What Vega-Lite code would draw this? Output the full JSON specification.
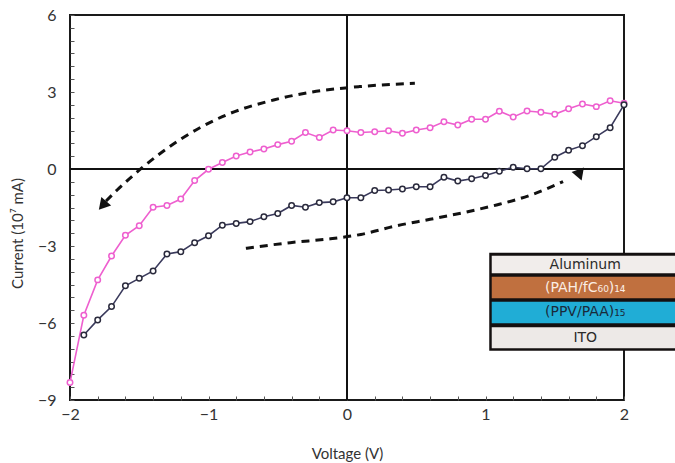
{
  "$schema": "https://vega.github.io/schema/vega-lite/v6.json",
  "width": 554,
  "height": 385,
  "autosize": {"type": "none"},
  "padding": {"left": 70, "top": 15, "right": 51, "bottom": 63},
  "background": "white",
  "config": {
    "view": {"stroke": "#1a1a1a", "strokeWidth": 2},
    "axis": {
      "grid": false,
      "domain": false,
      "labelFlush": false,
      "labelFont": "Lato",
      "labelFontSize": 16,
      "labelColor": "#333333",
      "titleFont": "Lato",
      "titleFontSize": 15,
      "titleFontWeight": "normal",
      "titleColor": "#333333",
      "tickColor": "#555555",
      "tickSize": -4,
      "tickWidth": 1
    }
  },
  "resolve": {"scale": {"color": "independent", "fill": "independent", "stroke": "independent"}},
  "datasets": {
    "iv": [
      {"s": "pink", "V": -2.0, "I": -8.32}, {"s": "pink", "V": -1.9, "I": -5.70}, {"s": "pink", "V": -1.8, "I": -4.32},
      {"s": "pink", "V": -1.7, "I": -3.39}, {"s": "pink", "V": -1.6, "I": -2.58}, {"s": "pink", "V": -1.5, "I": -2.21},
      {"s": "pink", "V": -1.4, "I": -1.49}, {"s": "pink", "V": -1.3, "I": -1.42}, {"s": "pink", "V": -1.2, "I": -1.17},
      {"s": "pink", "V": -1.1, "I": -0.45}, {"s": "pink", "V": -1.0, "I": -0.01}, {"s": "pink", "V": -0.9, "I": 0.25},
      {"s": "pink", "V": -0.8, "I": 0.51}, {"s": "pink", "V": -0.7, "I": 0.66}, {"s": "pink", "V": -0.6, "I": 0.78},
      {"s": "pink", "V": -0.5, "I": 0.95}, {"s": "pink", "V": -0.4, "I": 1.08}, {"s": "pink", "V": -0.3, "I": 1.42},
      {"s": "pink", "V": -0.2, "I": 1.23}, {"s": "pink", "V": -0.1, "I": 1.52}, {"s": "pink", "V": 0.0, "I": 1.49},
      {"s": "pink", "V": 0.1, "I": 1.42}, {"s": "pink", "V": 0.2, "I": 1.45}, {"s": "pink", "V": 0.3, "I": 1.49},
      {"s": "pink", "V": 0.4, "I": 1.39}, {"s": "pink", "V": 0.5, "I": 1.52}, {"s": "pink", "V": 0.6, "I": 1.61},
      {"s": "pink", "V": 0.7, "I": 1.84}, {"s": "pink", "V": 0.8, "I": 1.71}, {"s": "pink", "V": 0.9, "I": 1.94},
      {"s": "pink", "V": 1.0, "I": 1.94}, {"s": "pink", "V": 1.1, "I": 2.25}, {"s": "pink", "V": 1.2, "I": 2.03},
      {"s": "pink", "V": 1.3, "I": 2.26}, {"s": "pink", "V": 1.4, "I": 2.21}, {"s": "pink", "V": 1.5, "I": 2.13},
      {"s": "pink", "V": 1.6, "I": 2.35}, {"s": "pink", "V": 1.7, "I": 2.53}, {"s": "pink", "V": 1.8, "I": 2.43},
      {"s": "pink", "V": 1.9, "I": 2.66}, {"s": "pink", "V": 2.0, "I": 2.56},
      {"s": "dark", "V": -1.9, "I": -6.47}, {"s": "dark", "V": -1.8, "I": -5.88}, {"s": "dark", "V": -1.7, "I": -5.36},
      {"s": "dark", "V": -1.6, "I": -4.55}, {"s": "dark", "V": -1.5, "I": -4.26}, {"s": "dark", "V": -1.4, "I": -3.97},
      {"s": "dark", "V": -1.3, "I": -3.31}, {"s": "dark", "V": -1.2, "I": -3.22}, {"s": "dark", "V": -1.1, "I": -2.87},
      {"s": "dark", "V": -1.0, "I": -2.60}, {"s": "dark", "V": -0.9, "I": -2.19}, {"s": "dark", "V": -0.8, "I": -2.12},
      {"s": "dark", "V": -0.7, "I": -2.05}, {"s": "dark", "V": -0.6, "I": -1.86}, {"s": "dark", "V": -0.5, "I": -1.73},
      {"s": "dark", "V": -0.4, "I": -1.42}, {"s": "dark", "V": -0.3, "I": -1.49}, {"s": "dark", "V": -0.2, "I": -1.31},
      {"s": "dark", "V": -0.1, "I": -1.28}, {"s": "dark", "V": 0.0, "I": -1.12}, {"s": "dark", "V": 0.1, "I": -1.12},
      {"s": "dark", "V": 0.2, "I": -0.84}, {"s": "dark", "V": 0.3, "I": -0.82}, {"s": "dark", "V": 0.4, "I": -0.78},
      {"s": "dark", "V": 0.5, "I": -0.69}, {"s": "dark", "V": 0.6, "I": -0.69}, {"s": "dark", "V": 0.7, "I": -0.32},
      {"s": "dark", "V": 0.8, "I": -0.47}, {"s": "dark", "V": 0.9, "I": -0.38}, {"s": "dark", "V": 1.0, "I": -0.25},
      {"s": "dark", "V": 1.1, "I": -0.09}, {"s": "dark", "V": 1.2, "I": 0.07}, {"s": "dark", "V": 1.3, "I": 0.01},
      {"s": "dark", "V": 1.4, "I": 0.01}, {"s": "dark", "V": 1.5, "I": 0.46}, {"s": "dark", "V": 1.6, "I": 0.73},
      {"s": "dark", "V": 1.7, "I": 0.91}, {"s": "dark", "V": 1.8, "I": 1.26}, {"s": "dark", "V": 1.9, "I": 1.61},
      {"s": "dark", "V": 2.0, "I": 2.50}
    ],
    "arrows": [
      {"a": "upper", "V": 0.49, "I": 3.34}, {"a": "upper", "V": 0.09, "I": 3.21},
      {"a": "upper", "V": -0.25, "I": 3.0}, {"a": "upper", "V": -0.53, "I": 2.69},
      {"a": "upper", "V": -0.9, "I": 2.04}, {"a": "upper", "V": -1.21, "I": 1.13},
      {"a": "upper", "V": -1.47, "I": 0.09}, {"a": "upper", "V": -1.66, "I": -0.82},
      {"a": "upper", "V": -1.74, "I": -1.25},
      {"a": "lower", "V": -0.73, "I": -3.09}, {"a": "lower", "V": -0.41, "I": -2.87},
      {"a": "lower", "V": -0.12, "I": -2.72}, {"a": "lower", "V": 0.1, "I": -2.55},
      {"a": "lower", "V": 0.36, "I": -2.21}, {"a": "lower", "V": 0.6, "I": -1.96},
      {"a": "lower", "V": 0.84, "I": -1.70}, {"a": "lower", "V": 1.08, "I": -1.40},
      {"a": "lower", "V": 1.33, "I": -1.01}, {"a": "lower", "V": 1.56, "I": -0.49}
    ],
    "stack": [
      {"layer": "frame", "x1": 1.027, "x2": 2.45, "y1": -3.26, "y2": -7.08},
      {"layer": "Aluminum", "x1": 1.045, "x2": 2.45, "y1": -3.38, "y2": -4.06},
      {"layer": "PAH", "x1": 1.045, "x2": 2.45, "y1": -4.20, "y2": -5.04},
      {"layer": "PPV", "x1": 1.045, "x2": 2.45, "y1": -5.17, "y2": -6.01},
      {"layer": "ITO", "x1": 1.045, "x2": 2.45, "y1": -6.17, "y2": -6.98}
    ],
    "stackLabels": [
      {"layer": "Aluminum", "label": "Aluminum", "V": 1.72, "I": -3.74},
      {"layer": "PAH", "label": "(PAH/fC₆₀)₁₄", "V": 1.72, "I": -4.62},
      {"layer": "PPV", "label": "(PPV/PAA)₁₅", "V": 1.72, "I": -5.58},
      {"layer": "ITO", "label": "ITO", "V": 1.72, "I": -6.57}
    ]
  },
  "encoding": {
    "x": {
      "field": "V", "type": "quantitative",
      "scale": {"domain": [-2, 2], "nice": false, "zero": false},
      "axis": {
        "title": "Voltage (V)",
        "format": "~g",
        "values": [-2, -1.8, -1.6, -1.4, -1.2, -1, -0.8, -0.6, -0.4, -0.2, 0, 0.2, 0.4, 0.6, 0.8, 1, 1.2, 1.4, 1.6, 1.8, 2],
        "labelExpr": "abs(round(datum.value) - datum.value) < 0.000001 ? datum.label : ''",
        "labelPadding": 10,
        "titlePadding": 24
      }
    },
    "y": {
      "field": "I", "type": "quantitative",
      "scale": {"domain": [-9, 6], "nice": false, "zero": false},
      "axis": {
        "title": "Current (10⁷ mA)",
        "format": "~g",
        "values": [-9, -8.5, -8, -7.5, -7, -6.5, -6, -5.5, -5, -4.5, -4, -3.5, -3, -2.5, -2, -1.5, -1, -0.5, 0, 0.5, 1, 1.5, 2, 2.5, 3, 3.5, 4, 4.5, 5, 5.5, 6],
        "labelExpr": "abs(datum.value % 3) < 0.000001 ? datum.label : ''",
        "labelPadding": 18,
        "titlePadding": 12,
        "titleY": 218
      }
    }
  },
  "layer": [
    {
      "data": {"values": [{"z": 0}]},
      "mark": {"type": "rule", "color": "#111111", "strokeWidth": 2},
      "encoding": {"y": {"field": "z", "type": "quantitative", "scale": {"domain": [-9, 6], "nice": false, "zero": false}}, "x": null}
    },
    {
      "data": {"values": [{"z": 0}]},
      "mark": {"type": "rule", "color": "#111111", "strokeWidth": 2},
      "encoding": {"x": {"field": "z", "type": "quantitative", "scale": {"domain": [-2, 2], "nice": false, "zero": false}}, "y": null}
    },
    {
      "data": {"name": "arrows"},
      "mark": {"type": "line", "color": "#111111", "strokeWidth": 3, "strokeDash": [8, 6], "interpolate": "monotone"},
      "encoding": {"detail": {"field": "a"}}
    },
    {
      "data": {"values": [{"V": -1.765, "I": -1.42}]},
      "mark": {"type": "point", "shape": "triangle-up", "filled": true, "color": "#111111", "size": 170, "angle": 221, "opacity": 1}
    },
    {
      "data": {"values": [{"V": 1.68, "I": -0.24}]},
      "mark": {"type": "point", "shape": "triangle-up", "filled": true, "color": "#111111", "size": 170, "angle": 160, "opacity": 1}
    },
    {
      "data": {"name": "iv"},
      "mark": {"type": "line", "strokeWidth": 1.6},
      "encoding": {
        "color": {"field": "s", "type": "nominal", "scale": {"domain": ["pink", "dark"], "range": ["#EE5FCF", "#3A3A5C"]}, "legend": null}
      }
    },
    {
      "data": {"name": "iv"},
      "mark": {"type": "point", "filled": false, "fill": "white", "strokeWidth": 1.5, "size": 30, "opacity": 1},
      "encoding": {
        "stroke": {"field": "s", "type": "nominal", "scale": {"domain": ["pink", "dark"], "range": ["#EE5FCF", "#2A2A3C"]}, "legend": null}
      }
    },
    {
      "data": {"name": "stack"},
      "mark": {"type": "rect"},
      "encoding": {
        "x": {"field": "x1", "type": "quantitative", "scale": {"domain": [-2, 2], "nice": false, "zero": false}},
        "x2": {"field": "x2"},
        "y": {"field": "y1", "type": "quantitative", "scale": {"domain": [-9, 6], "nice": false, "zero": false}},
        "y2": {"field": "y2"},
        "fill": {"field": "layer", "type": "nominal", "scale": {"domain": ["frame", "Aluminum", "PAH", "PPV", "ITO"], "range": ["#141010", "#F1EDEB", "#C0703F", "#20ADD6", "#EDE9E7"]}, "legend": null}
      }
    },
    {
      "data": {"name": "stackLabels"},
      "mark": {"type": "text", "font": "DejaVu Sans", "fontSize": 14, "align": "center", "baseline": "middle"},
      "encoding": {
        "text": {"field": "label"},
        "color": {"field": "layer", "type": "nominal", "scale": {"domain": ["Aluminum", "PAH", "PPV", "ITO"], "range": ["#2a2a2a", "#FBEDE4", "#1a2a3a", "#2a2a2a"]}, "legend": null}
      }
    }
  ]
}
